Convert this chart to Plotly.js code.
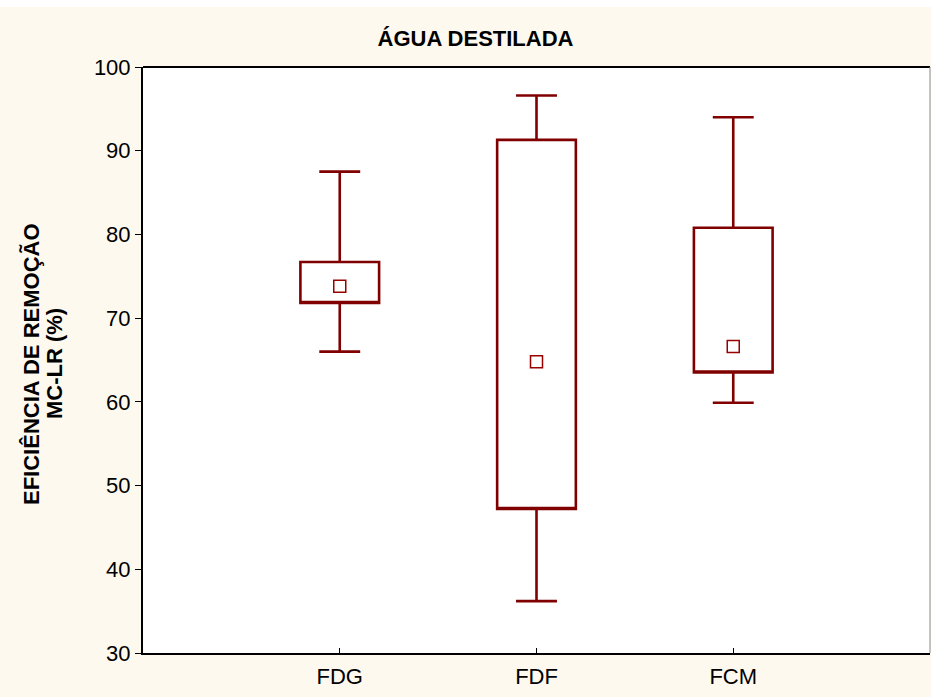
<!DOCTYPE html>
<html>
<head>
<meta charset="utf-8">
<script src="https://cdn.plot.ly/plotly-3.0.1.min.js"></script>
<style>
  html, body { margin: 0; padding: 0; background: #fdf9ef; }
  #chart { width: 931px; height: 697px; }
</style>
</head>
<body>
<div id="chart"></div>
<script>
// Categories and box statistics
var categories = ["FDG", "FDF", "FCM"];
var lowerWhisker = [66.0, 36.2, 59.9];
var lowerQuartile = [71.8, 47.2, 63.5];
var upperQuartile = [76.7, 91.3, 80.8];
var upperWhisker = [87.5, 96.6, 94.0];
var centerValue = [73.8, 64.8, 66.6];
var yTickValues = [30, 40, 50, 60, 70, 80, 90, 100];

var boxColor = "#800000";
var fontFam = "Liberation Sans, Arial, sans-serif";

var boxTrace = {
  type: "box",
  x: categories,
  q1: lowerQuartile,
  median: lowerQuartile,
  q3: upperQuartile,
  lowerfence: lowerWhisker,
  upperfence: upperWhisker,
  width: 0.4,
  whiskerwidth: 0.52,
  boxpoints: false,
  fillcolor: "rgba(255,255,255,0)",
  line: { color: boxColor, width: 2.6 },
  hoverinfo: "skip",
  showlegend: false
};

var centerTrace = {
  type: "scatter",
  mode: "markers",
  x: categories,
  y: centerValue,
  marker: { symbol: "square-open", size: 12, color: "#990000", line: { width: 1.5, color: "#990000" } },
  showlegend: false,
  hoverinfo: "skip"
};

var layout = {
  width: 931,
  height: 697,
  paper_bgcolor: "#fdf9ef",
  plot_bgcolor: "#ffffff",
  margin: { l: 143, r: 1, t: 67, b: 44 },
  showlegend: false,
  title: {
    text: "<b>ÁGUA DESTILADA</b>",
    font: { family: fontFam, size: 22, color: "#000" },
    x: 475.5 / 931, xref: "container", xanchor: "center",
    y: 1 - 38 / 697, yref: "container", yanchor: "middle"
  },
  xaxis: {
    type: "category",
    categoryarray: categories,
    range: [-1, 3],
    showgrid: false,
    zeroline: false,
    showline: true,
    linecolor: "#000",
    linewidth: 2,
    ticks: "inside",
    ticklen: 5,
    tickwidth: 1,
    tickcolor: "#000",
    ticklabelstandoff: 3,
    tickfont: { family: fontFam, size: 22, color: "#000" }
  },
  yaxis: {
    range: [30, 100],
    tickvals: yTickValues,
    ticktext: yTickValues.map(String),
    showgrid: false,
    zeroline: false,
    showline: true,
    linecolor: "#000",
    linewidth: 2,
    ticks: "outside",
    ticklen: 6,
    tickwidth: 1,
    tickcolor: "#000",
    tickfont: { family: fontFam, size: 22, color: "#000" }
  },
  shapes: [
    { type: "rect", xref: "paper", yref: "paper", x0: -143/787, x1: 788/787, y0: 1 + 60/586, y1: 1 + 70/586,
      fillcolor: "#ffffff", line: { width: 0 }, layer: "below" },
    { type: "line", xref: "paper", yref: "paper", x0: 0, x1: 1, y0: 1, y1: 1,
      line: { color: "#000", width: 2 } },
    { type: "line", xref: "paper", yref: "paper", x0: 1, x1: 1, y0: 0, y1: 1,
      line: { color: "#888", width: 1 } }
  ],
  annotations: [
    { text: "<b>EFICIÊNCIA DE REMOÇÃO</b>", xref: "paper", yref: "paper",
      x: (31 - 143) / 787, y: (653 - 364) / 586, xanchor: "center", yanchor: "middle",
      textangle: -90, showarrow: false, font: { family: fontFam, size: 22, color: "#000" } },
    { text: "<b>MC-LR (%)</b>", xref: "paper", yref: "paper",
      x: (54 - 143) / 787, y: (653 - 364) / 586, xanchor: "center", yanchor: "middle",
      textangle: -90, showarrow: false, font: { family: fontFam, size: 22, color: "#000" } }
  ]
};

Plotly.newPlot("chart", [boxTrace, centerTrace], layout, { staticPlot: true, displayModeBar: false });
</script>
</body>
</html>
